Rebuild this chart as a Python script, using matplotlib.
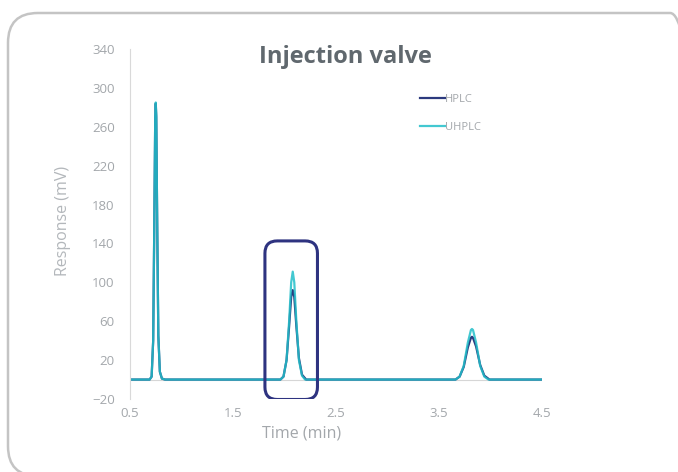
import matplotlib
matplotlib.use("Agg")
import matplotlib.pyplot as plt
from matplotlib.patches import FancyBboxPatch

plt.rcParams["font.family"] = ["Open Sans", "DejaVu Sans"]

# time (min) / response (mV)
hplc_time = [0.5, 0.69, 0.71, 0.725, 0.735, 0.745, 0.75, 0.755, 0.765, 0.775, 0.79, 0.81, 0.84,
             1.96, 1.99, 2.02, 2.045, 2.065, 2.08, 2.095, 2.115, 2.14, 2.17, 2.21,
             3.66, 3.70, 3.74, 3.78, 3.81, 3.82, 3.83, 3.86, 3.90, 3.94, 3.99, 4.5]
hplc_resp = [0, 0, 3, 40, 150, 270, 284, 270, 150, 45, 8, 1, 0,
             0, 3, 20, 55, 85, 92, 85, 55, 22, 5, 0,
             0, 3, 13, 33, 43, 44, 43, 34, 15, 4, 0, 0]

uhplc_time = [0.5, 0.69, 0.71, 0.725, 0.735, 0.745, 0.75, 0.755, 0.765, 0.775, 0.79, 0.81, 0.84,
              1.96, 1.99, 2.02, 2.045, 2.065, 2.08, 2.095, 2.115, 2.14, 2.17, 2.20,
              3.66, 3.70, 3.74, 3.78, 3.81, 3.82, 3.83, 3.86, 3.90, 3.94, 3.98, 4.5]
uhplc_resp = [0, 0, 3, 40, 150, 272, 285, 272, 150, 45, 8, 1, 0,
              0, 3, 20, 60, 100, 111, 100, 60, 20, 4, 0,
              0, 3, 14, 38, 51, 52, 51, 38, 14, 3, 0, 0]

x_ticks = [0.5, 1.5, 2.5, 3.5, 4.5]
y_ticks = [-20, 20, 60, 100, 140, 180, 220, 260, 300, 340]

# highlighted region around the second peak
box_x = (1.81, 2.32)
box_y = (-20.5, 142.6)

tick_col = "#a3a7ab"
fig = plt.figure(figsize=(6.78, 4.72), dpi=100)
ax = fig.add_axes([130 / 678, 1 - 399 / 472, 412 / 678, 350 / 472])

ax.plot(hplc_time, hplc_resp, color="#2c3a7e", lw=1.6, label="HPLC")
ax.plot(uhplc_time, uhplc_resp, color="#22bfc9", lw=1.6, alpha=0.85, label="UHPLC")
ax.axhline(0, color="#d6d6d6", lw=0.8, zorder=0)

ax.set_xlim(0.5, 4.5)
ax.set_ylim(-20, 340)
ax.set_xticks(x_ticks)
ax.set_xticklabels([str(t) for t in x_ticks])
ax.set_yticks(y_ticks)
for s in ["top", "right", "bottom"]:
    ax.spines[s].set_visible(False)
ax.spines["left"].set_color("#d9d9d9")
ax.spines["left"].set_linewidth(0.8)
ax.tick_params(length=0, colors=tick_col, labelsize=9.5, pad=6)
ax.tick_params(axis="y", pad=11)

ax.set_xlabel("Time (min)", color="#a3a7ab", fontsize=11.5)
ax.xaxis.set_label_coords(0.417, -0.076)
ax.set_ylabel("Response (mV)", color="#b3b7bb", fontsize=11.5)
ax.yaxis.set_label_coords(-0.144, 0.51)

aspect = (360 / 350) / (4 / 412)
box = FancyBboxPatch((box_x[0], box_y[0]), box_x[1] - box_x[0], box_y[1] - box_y[0],
                     boxstyle="round,pad=0,rounding_size=0.12", mutation_aspect=aspect,
                     fill=False, ec="#2e3380", lw=2.2, zorder=5)
ax.add_patch(box)

leg = ax.legend(loc="upper left", bbox_to_anchor=(0.68, 0.9), frameon=False,
                fontsize=8, handlelength=2.2, handletextpad=0.05, labelspacing=1.5)
for t in leg.get_texts():
    t.set_color(tick_col)

fig.text(345 / 678, 1 - 57 / 472, "Injection valve", ha="center", va="center",
         fontsize=17, fontweight="bold", color="#60686e")

frame = FancyBboxPatch((8 / 678, -4 / 472), 700 / 678 - 8 / 678, 459 / 472 + 4 / 472,
                       boxstyle="round,pad=0,rounding_size=0.044", mutation_aspect=678 / 472,
                       transform=fig.transFigure, fill=False, ec="#c4c4c4", lw=1.8,
                       clip_on=False)
fig.patches.append(frame)

fig.savefig("out.png", dpi=100)
